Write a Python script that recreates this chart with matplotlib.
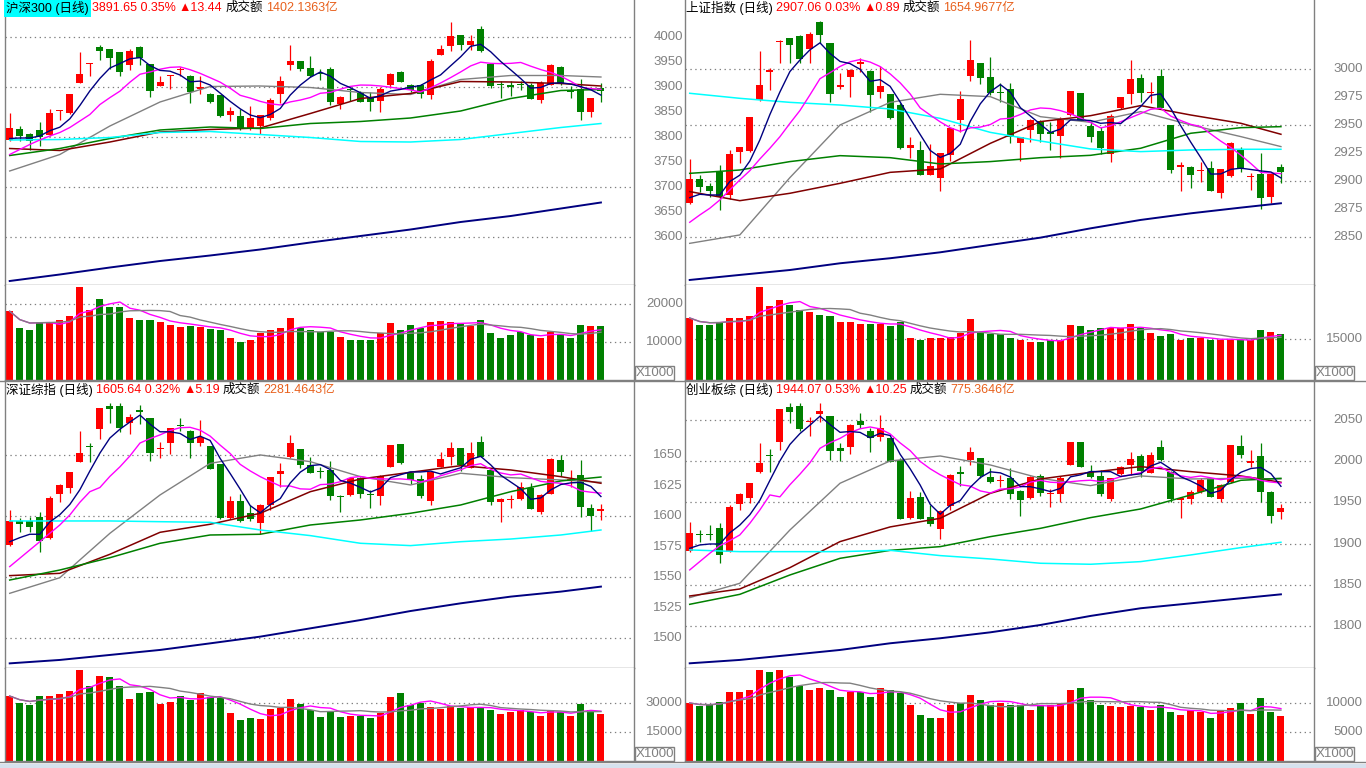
import numpy as np
import pandas as pd
import matplotlib
matplotlib.use('Agg')
import matplotlib.pyplot as plt
from matplotlib.lines import Line2D
from matplotlib.patches import Rectangle

W, H = 1366, 768
TXT = ['Liberation Sans', 'Noto Sans CJK SC', 'DejaVu Sans']
NUM = ['Liberation Sans', 'DejaVu Sans']
UP, DOWN = '#FF0000', '#008000'
GRAY = '#808080'

# sample positions (candle index) for the long moving averages
ma_idx = [0, 5, 10, 15, 20, 25, 30, 35, 40, 45, 50, 55, 59]

# ---------------- 沪深300 ----------------
hs300_ohlc = [
    (3794, 3849, 3792, 3819), (3817, 3822, 3792, 3802), (3807, 3809, 3774, 3793), (3815, 3830, 3782, 3801),
    (3805, 3856, 3802, 3848), (3852, 3855, 3834, 3854), (3849, 3887, 3847, 3886), (3909, 3971, 3908, 3926),
    (3946, 3948, 3922, 3947), (3981, 3985, 3955, 3973), (3976, 3976, 3937, 3958), (3970, 3970, 3922, 3931),
    (3945, 3977, 3934, 3973), (3981, 3983, 3945, 3959), (3946, 3946, 3881, 3893), (3903, 3922, 3902, 3910),
    (3922, 3925, 3897, 3923), (3934, 3941, 3923, 3935), (3923, 3925, 3869, 3891), (3897, 3923, 3887, 3900),
    (3887, 3889, 3869, 3871), (3884, 3884, 3841, 3842), (3844, 3861, 3833, 3852), (3842, 3857, 3815, 3817),
    (3819, 3862, 3815, 3838), (3822, 3845, 3807, 3844), (3839, 3879, 3835, 3874), (3887, 3922, 3869, 3912),
    (3944, 3984, 3935, 3952), (3952, 3952, 3932, 3937), (3938, 3963, 3921, 3922), (3929, 3937, 3915, 3927),
    (3937, 3940, 3865, 3870), (3866, 3882, 3857, 3880), (3897, 3899, 3872, 3894), (3889, 3892, 3870, 3871),
    (3879, 3890, 3852, 3871), (3872, 3901, 3851, 3897), (3904, 3929, 3899, 3926), (3930, 3932, 3910, 3911),
    (3904, 3907, 3890, 3894), (3905, 3907, 3879, 3887), (3884, 3957, 3877, 3952), (3965, 3984, 3964, 3977),
    (3983, 4030, 3972, 4002), (4005, 4005, 3975, 3984), (3984, 4004, 3975, 3992), (4017, 4022, 3971, 3972),
    (3947, 3947, 3899, 3902), (3906, 3913, 3879, 3905), (3905, 3912, 3882, 3900), (3906, 3913, 3894, 3905),
    (3905, 3909, 3876, 3877), (3875, 3912, 3869, 3909), (3905, 3947, 3904, 3945), (3941, 3942, 3905, 3907),
    (3894, 3902, 3879, 3891), (3897, 3917, 3835, 3851), (3851, 3879, 3841, 3878), (3899, 3909, 3870, 3892),
]
hs300_vol = [18100, 13700, 13200, 15300, 15300, 15800, 16800, 24500, 18400, 21300,
             19200, 19200, 16300, 15800, 15800, 15300, 14500, 13900, 14200, 13900,
             13400, 13200, 11000, 10000, 10500, 12400, 13200, 13700, 16300, 13700,
             13200, 12600, 12600, 11300, 10500, 10500, 10500, 12400, 15000, 13200,
             14500, 13700, 15300, 15500, 15300, 14700, 14200, 15800, 12400, 11000,
             11800, 12600, 11800, 11000, 12600, 12100, 11000, 14500, 14200, 14200]
hs300_ma5_head = [3797, 3798, 3798, 3802]
hs300_ma10_head = [3765, 3775, 3785, 3794, 3802, 3809, 3819, 3832, 3845]
hs300_ma20 = [3732, 3765, 3822, 3870, 3901, 3902, 3899, 3889, 3885, 3915, 3923, 3923, 3920]
hs300_ma30 = [3777, 3773, 3790, 3810, 3815, 3818, 3847, 3877, 3887, 3911, 3910, 3907, 3902]
hs300_ma60 = [3763, 3777, 3797, 3814, 3820, 3817, 3827, 3831, 3838, 3852, 3877, 3893, 3895]
hs300_ma120 = [3794, 3795, 3799, 3809, 3811, 3805, 3799, 3791, 3790, 3795, 3807, 3819, 3827]
hs300_ma250 = [3512, 3525, 3539, 3552, 3563, 3575, 3589, 3602, 3615, 3630, 3642, 3657, 3669]

# ---------------- 上证指数 ----------------
shzs_ohlc = [
    (2880.4, 2919.9, 2879.8, 2902.1), (2902.1, 2905.7, 2890.8, 2894.6), (2895.8, 2898.2, 2886.3, 2891.7),
    (2908.0, 2914.6, 2874.4, 2886.3), (2887.8, 2928.0, 2884.2, 2924.4), (2926.5, 2930.9, 2916.1, 2930.4),
    (2927.1, 2957.7, 2926.5, 2957.7), (2972.6, 3016.4, 2972.0, 2986.0), (2997.3, 3000.9, 2981.5, 2999.4),
    (3024.7, 3026.2, 3005.3, 3025.3), (3027.7, 3028.3, 3005.3, 3021.7), (3029.8, 3030.6, 3005.3, 3009.2),
    (3017.8, 3033.6, 3005.9, 3031.5), (3042.5, 3043.1, 3023.2, 3030.6), (3023.2, 3023.2, 2971.1, 2978.0),
    (2984.5, 2996.4, 2982.4, 2986.0), (2993.4, 3000.0, 2975.6, 2999.4), (3004.8, 3009.8, 2997.3, 3006.2),
    (2998.5, 2999.4, 2961.6, 2977.1), (2980.1, 3003.3, 2974.7, 2985.1), (2978.0, 2978.0, 2955.6, 2956.2),
    (2968.1, 2969.6, 2928.9, 2929.5), (2930.1, 2939.3, 2921.1, 2932.4), (2928.0, 2936.0, 2905.5, 2905.7),
    (2905.7, 2933.0, 2905.5, 2914.0), (2902.7, 2925.6, 2891.7, 2925.0), (2923.5, 2947.9, 2918.2, 2947.3),
    (2954.8, 2980.6, 2944.3, 2973.5), (2994.3, 3026.2, 2989.9, 3008.3), (3005.3, 3005.3, 2986.9, 2992.0),
    (2993.4, 3010.7, 2977.1, 2979.2), (2979.8, 2987.5, 2971.1, 2978.9), (2982.4, 2987.5, 2933.9, 2939.3),
    (2934.5, 2939.9, 2918.4, 2939.3), (2945.8, 2955.4, 2935.4, 2954.8), (2953.9, 2954.5, 2934.8, 2942.3),
    (2944.3, 2953.3, 2928.0, 2942.0), (2940.8, 2957.7, 2921.1, 2954.8), (2959.2, 2980.6, 2958.6, 2980.6),
    (2978.6, 2979.2, 2954.2, 2954.2), (2949.7, 2953.9, 2935.4, 2939.9), (2944.9, 2948.8, 2924.1, 2929.5),
    (2924.4, 2959.8, 2917.6, 2958.3), (2965.2, 2975.6, 2964.6, 2975.3), (2978.0, 3008.3, 2969.0, 2991.4),
    (2992.0, 2995.5, 2970.5, 2979.2), (2978.6, 2989.0, 2969.6, 2979.5), (2994.0, 3000.3, 2964.3, 2965.2),
    (2950.3, 2950.3, 2907.1, 2910.1), (2913.1, 2917.6, 2891.4, 2914.3), (2913.1, 2913.7, 2894.3, 2905.7),
    (2909.2, 2917.6, 2899.7, 2910.4), (2911.6, 2918.4, 2891.4, 2891.7), (2889.9, 2911.0, 2884.8, 2911.0),
    (2905.1, 2934.8, 2903.6, 2934.5), (2928.0, 2930.9, 2908.0, 2911.0), (2903.6, 2907.1, 2892.3, 2904.5),
    (2906.2, 2925.0, 2875.0, 2885.4), (2886.3, 2907.1, 2881.0, 2906.2), (2913.1, 2915.5, 2898.2, 2908.0),
]
shzs_vol = [22700, 20100, 20100, 21200, 22700, 22700, 23400, 34000, 27100, 29300,
            27500, 25600, 24900, 23800, 23400, 21200, 21200, 20500, 20500, 20500,
            19800, 21200, 15400, 14600, 15400, 15400, 15700, 17200, 22300, 17600,
            16800, 16800, 15400, 14600, 13900, 13900, 14600, 14600, 20100, 19800,
            18300, 19000, 19000, 19000, 20500, 19000, 17200, 16100, 16800, 14600,
            15400, 15400, 14600, 14600, 14600, 14600, 14600, 18300, 17600, 16800]
shzs_ma5_head = [2885.4, 2888.4, 2887.8, 2887.8]
shzs_ma10_head = [2863.4, 2869.9, 2875.9, 2883.3, 2892.3, 2901.2, 2909.5, 2919.9, 2929.5]
shzs_ma20 = [2844.6, 2852.1, 2903.3, 2950.3, 2970.5, 2977.7, 2975.6, 2957.7, 2952.7, 2962.2, 2950.3, 2939.9, 2931.0]
shzs_ma30 = [2890.8, 2882.7, 2889.3, 2898.2, 2908.0, 2911.0, 2933.9, 2953.3, 2958.6, 2967.6, 2959.2, 2951.8, 2942.0]
shzs_ma60 = [2907.1, 2910.1, 2917.6, 2922.9, 2921.1, 2915.5, 2917.6, 2921.1, 2923.2, 2929.5, 2942.9, 2947.9, 2948.8]
shzs_ma120 = [2978.6, 2974.1, 2970.5, 2968.1, 2964.6, 2956.2, 2943.7, 2936.0, 2928.9, 2926.5, 2928.0, 2928.6, 2928.6]
shzs_ma250 = [2811.9, 2816.4, 2820.8, 2826.8, 2831.3, 2836.6, 2843.2, 2849.7, 2858.0, 2865.5, 2871.4, 2876.5, 2880.4]

# ---------------- 深证综指 ----------------
szzz_ohlc = [
    (1576.5, 1605.2, 1576.0, 1596.2), (1596.2, 1598.9, 1587.4, 1594.0), (1596.2, 1599.5, 1587.4, 1591.5),
    (1599.5, 1603.3, 1571.1, 1580.1), (1582.0, 1616.9, 1581.4, 1615.3), (1618.3, 1626.2, 1612.0, 1625.7),
    (1623.0, 1636.6, 1618.9, 1636.1), (1644.8, 1670.2, 1644.5, 1651.6), (1657.9, 1660.4, 1644.8, 1657.1),
    (1671.6, 1689.1, 1663.4, 1688.5), (1690.4, 1692.6, 1676.2, 1687.7), (1690.4, 1692.6, 1669.4, 1672.1),
    (1676.2, 1683.6, 1667.5, 1681.2), (1687.2, 1691.3, 1675.4, 1685.2), (1680.3, 1680.9, 1645.6, 1651.6),
    (1654.9, 1661.2, 1647.5, 1656.3), (1660.4, 1672.7, 1651.1, 1672.1), (1675.1, 1680.3, 1669.9, 1674.3),
    (1669.9, 1670.8, 1648.1, 1660.4), (1660.4, 1679.0, 1657.7, 1665.3), (1657.7, 1657.7, 1638.5, 1638.8),
    (1642.9, 1642.9, 1597.8, 1598.4), (1598.4, 1616.7, 1597.6, 1612.6), (1612.6, 1618.0, 1595.6, 1596.2),
    (1602.5, 1609.3, 1596.2, 1597.8), (1594.8, 1609.8, 1585.3, 1609.3), (1609.3, 1632.5, 1605.2, 1632.2),
    (1634.4, 1643.4, 1624.3, 1637.2), (1648.9, 1666.7, 1647.5, 1660.4), (1655.2, 1655.2, 1639.9, 1642.1),
    (1642.1, 1648.9, 1635.3, 1635.8), (1636.9, 1640.7, 1631.2, 1636.3), (1638.0, 1645.4, 1613.4, 1616.9),
    (1616.4, 1617.5, 1603.3, 1615.9), (1617.5, 1631.7, 1616.9, 1631.2), (1631.2, 1632.5, 1614.8, 1618.3),
    (1617.8, 1621.6, 1606.6, 1617.2), (1616.9, 1633.9, 1609.3, 1633.1), (1640.7, 1658.5, 1640.4, 1658.5),
    (1659.0, 1659.3, 1642.9, 1643.4), (1635.3, 1636.6, 1626.2, 1629.8), (1630.6, 1633.9, 1614.8, 1616.9),
    (1612.6, 1637.2, 1609.3, 1636.6), (1640.7, 1652.5, 1640.2, 1647.0), (1648.9, 1660.7, 1642.1, 1656.3),
    (1656.3, 1656.3, 1637.2, 1642.1), (1639.9, 1660.7, 1639.3, 1651.6), (1661.2, 1665.9, 1648.4, 1648.9),
    (1638.0, 1638.0, 1609.3, 1612.0), (1611.5, 1614.8, 1595.6, 1613.9), (1613.4, 1617.5, 1606.6, 1614.2),
    (1614.2, 1627.9, 1613.4, 1623.8), (1623.0, 1627.1, 1606.0, 1606.0), (1603.3, 1618.3, 1601.9, 1617.5),
    (1618.3, 1647.5, 1618.0, 1647.0), (1646.2, 1650.3, 1633.3, 1636.1), (1629.0, 1638.0, 1624.3, 1630.6),
    (1633.9, 1646.2, 1599.7, 1607.9), (1606.6, 1609.8, 1588.0, 1600.6), (1604.7, 1609.8, 1597.0, 1606.0),
]
szzz_vol = [33600, 29800, 29000, 33600, 33600, 34700, 36200, 47100, 38800, 44100,
            43400, 38800, 32100, 35200, 35700, 29500, 30500, 33600, 31700, 35200,
            33300, 32700, 24800, 21200, 22200, 21700, 26900, 27400, 32100, 29500,
            26400, 22800, 25900, 22800, 23300, 23300, 22200, 24800, 33100, 35200,
            29000, 30000, 27900, 26900, 28400, 27400, 27900, 27900, 26400, 24300,
            25300, 26400, 25300, 23300, 26400, 25300, 23300, 29500, 26400, 24300]
szzz_ma5_head = [1579.2, 1582.5, 1585.3, 1585.3]
szzz_ma10_head = [1558.8, 1565.6, 1572.4, 1579.2, 1586.1, 1592.9, 1601.1, 1611.5, 1620.2]
szzz_ma20 = [1536.9, 1549.7, 1586.1, 1617.5, 1643.4, 1650.3, 1644.8, 1632.5, 1625.7, 1635.3, 1631.7, 1629.8, 1627.9]
szzz_ma30 = [1551.4, 1553.3, 1568.9, 1586.9, 1593.5, 1602.5, 1620.2, 1630.6, 1636.1, 1641.5, 1638.0, 1632.5, 1627.1]
szzz_ma60 = [1547.8, 1556.0, 1566.1, 1577.9, 1584.7, 1585.3, 1592.9, 1597.0, 1602.5, 1609.3, 1620.2, 1629.0, 1632.2]
szzz_ma120 = [1596.2, 1596.2, 1596.2, 1595.6, 1595.1, 1588.8, 1584.2, 1577.9, 1576.0, 1579.2, 1581.4, 1584.7, 1588.8]
szzz_ma250 = [1479.5, 1482.3, 1486.4, 1490.5, 1495.9, 1501.4, 1508.2, 1515.0, 1522.4, 1528.7, 1534.2, 1538.3, 1542.4]

# ---------------- 创业板综 ----------------
cybz_ohlc = [
    (1891.0, 1926.6, 1890.2, 1913.3), (1911.7, 1916.5, 1902.4, 1910.5), (1911.7, 1922.6, 1904.4, 1910.5),
    (1918.5, 1924.6, 1876.1, 1886.2), (1890.2, 1946.9, 1889.4, 1944.8), (1948.1, 1961.0, 1940.8, 1960.2),
    (1955.8, 1974.0, 1949.7, 1973.2), (1986.5, 2021.7, 1985.7, 1998.2), (2007.9, 2014.4, 1986.5, 2006.7),
    (2023.7, 2063.4, 2013.6, 2063.4), (2066.2, 2070.2, 2046.0, 2060.1), (2067.0, 2070.2, 2036.7, 2039.1),
    (2048.0, 2054.1, 2031.0, 2049.2), (2057.3, 2070.2, 2047.2, 2061.3), (2054.9, 2054.9, 2001.5, 2012.8),
    (2016.4, 2021.7, 2000.7, 2012.8), (2017.6, 2044.7, 2008.7, 2043.9), (2049.2, 2058.1, 2039.9, 2043.9),
    (2036.7, 2040.7, 2011.6, 2028.6), (2029.8, 2056.1, 2024.9, 2039.9), (2027.8, 2027.8, 1998.6, 1999.4),
    (2001.5, 2003.5, 1929.5, 1929.9), (1930.7, 1963.8, 1929.9, 1955.8), (1957.0, 1963.0, 1929.5, 1929.9),
    (1932.7, 1946.9, 1921.8, 1923.4), (1917.7, 1940.8, 1905.6, 1939.6), (1945.6, 1984.1, 1940.8, 1983.3),
    (1986.5, 1994.2, 1970.3, 1984.9), (2001.5, 2017.6, 1995.4, 2010.8), (2003.5, 2004.3, 1979.2, 1982.1),
    (1980.4, 1992.2, 1973.6, 1974.4), (1976.0, 1983.3, 1969.1, 1976.8), (1980.0, 1991.4, 1954.1, 1959.8),
    (1963.8, 1965.1, 1933.9, 1952.9), (1954.9, 1982.1, 1954.1, 1981.2), (1982.1, 1984.1, 1958.2, 1961.0),
    (1959.8, 1966.3, 1944.8, 1960.6), (1960.2, 1982.1, 1950.9, 1979.2), (1995.4, 2023.7, 1995.0, 2022.9),
    (2022.9, 2023.7, 1993.0, 1993.4), (1987.3, 1995.4, 1979.2, 1981.2), (1982.1, 1989.3, 1958.2, 1959.8),
    (1954.1, 1980.0, 1952.1, 1979.2), (1984.1, 1994.2, 1983.3, 1993.4), (1995.4, 2011.6, 1983.3, 2002.7),
    (2006.3, 2008.3, 1981.2, 1988.1), (1986.1, 2010.8, 1985.3, 2007.5), (2016.8, 2025.7, 2000.7, 2001.5),
    (1987.3, 1988.1, 1950.9, 1953.7), (1953.3, 1957.0, 1931.5, 1954.9), (1954.1, 1965.1, 1948.1, 1962.2),
    (1963.0, 1980.0, 1961.8, 1977.2), (1978.0, 1979.2, 1956.6, 1957.0), (1954.1, 1971.9, 1950.9, 1971.1),
    (1974.4, 2019.7, 1973.2, 2019.7), (2018.5, 2031.8, 2004.3, 2007.5), (1998.2, 2013.6, 1993.4, 2000.3),
    (2006.3, 2021.7, 1950.9, 1963.0), (1963.0, 1963.8, 1925.4, 1933.9), (1938.8, 1948.1, 1929.9, 1942.8),
]
cybz_vol = [10000, 9480, 9650, 10170, 11900, 11900, 12240, 15690, 15340, 15690,
            14480, 12930, 12240, 12590, 12240, 11030, 11900, 11900, 11030, 12590,
            12240, 11720, 9650, 7930, 7410, 7410, 9650, 10000, 11380, 10520,
            9650, 10000, 9650, 9650, 8790, 9650, 9650, 10000, 12240, 12590,
            10520, 9650, 9480, 9310, 9480, 9310, 8790, 9650, 8450, 7930,
            8790, 8450, 7410, 8790, 9140, 10000, 8100, 10860, 8450, 7760]
cybz_ma5_head = [1894.3, 1898.3, 1899.5, 1899.5]
cybz_ma10_head = [1868.0, 1878.1, 1888.2, 1897.5, 1903.6, 1910.5, 1924.6, 1940.8, 1959.0]
cybz_ma20 = [1834.4, 1851.8, 1916.5, 1973.2, 2000.3, 2006.3, 1995.4, 1979.2, 1970.3, 1982.1, 1978.4, 1979.2, 1978.4]
cybz_ma30 = [1836.4, 1844.9, 1870.8, 1902.4, 1920.2, 1930.7, 1961.0, 1978.4, 1986.5, 1993.4, 1987.3, 1982.1, 1974.4]
cybz_ma60 = [1826.3, 1838.4, 1861.9, 1882.1, 1891.8, 1896.3, 1908.4, 1918.5, 1931.5, 1942.0, 1959.0, 1976.8, 1979.2]
cybz_ma120 = [1892.3, 1890.2, 1890.2, 1890.2, 1891.8, 1885.4, 1881.3, 1876.1, 1874.9, 1878.1, 1886.2, 1895.1, 1901.6]
cybz_ma250 = [1754.7, 1758.8, 1764.8, 1770.9, 1779.0, 1785.1, 1792.3, 1801.2, 1812.2, 1821.5, 1827.5, 1833.6, 1838.4]

panels = [
    dict(x0=5, top=0, mid=285, bot=380, ohlc=hs300_ohlc, vol=hs300_vol,
         heads=(hs300_ma5_head, hs300_ma10_head),
         mas=(hs300_ma20, hs300_ma30, hs300_ma60, hs300_ma120, hs300_ma250),
         ylim=(3504, 4074), vlim=(0, 25000),
         labels=list(range(3600, 4001, 50)), grid=list(range(3600, 4001, 100)),
         vlabels=[10000, 20000], ty=8,
         title=('沪深300 (日线)', '3891.65 0.35%', '▲13.44', '成交额', '1402.1363亿'), hi=True),
    dict(x0=685, top=0, mid=285, bot=380, ohlc=shzs_ohlc, vol=shzs_vol,
         heads=(shzs_ma5_head, shzs_ma10_head),
         mas=(shzs_ma20, shzs_ma30, shzs_ma60, shzs_ma120, shzs_ma250),
         ylim=(2807.4, 3061.9), vlim=(0, 34770),
         labels=list(range(2850, 3001, 25)), grid=list(range(2850, 3001, 50)),
         vlabels=[15000], ty=8,
         title=('上证指数 (日线)', '2907.06 0.03%', '▲0.89', '成交额', '1654.9677亿'), hi=False),
    dict(x0=5, top=381, mid=668, bot=761, ohlc=szzz_ohlc, vol=szzz_vol,
         heads=(szzz_ma5_head, szzz_ma10_head),
         mas=(szzz_ma20, szzz_ma30, szzz_ma60, szzz_ma120, szzz_ma250),
         ylim=(1475.7, 1710.9), vlim=(0, 48100),
         labels=list(range(1500, 1651, 25)), grid=list(range(1500, 1651, 50)),
         vlabels=[15000, 30000], ty=390,
         title=('深证综指 (日线)', '1605.64 0.32%', '▲5.19', '成交额', '2281.4643亿'), hi=False),
    dict(x0=685, top=381, mid=668, bot=761, ohlc=cybz_ohlc, vol=cybz_vol,
         heads=(cybz_ma5_head, cybz_ma10_head),
         mas=(cybz_ma20, cybz_ma30, cybz_ma60, cybz_ma120, cybz_ma250),
         ylim=(1749.0, 2097.3), vlim=(0, 16030),
         labels=list(range(1800, 2051, 50)), grid=list(range(1800, 2051, 50)),
         vlabels=[5000, 10000], ty=390,
         title=('创业板综 (日线)', '1944.07 0.53%', '▲10.25', '成交额', '775.3646亿'), hi=False),
]

PLOT_W = 629
fig = plt.figure(figsize=(W / 100, H / 100), dpi=100)
fig.patch.set_facecolor('white')


def px_axes(x0, y0, x1, y1):
    return fig.add_axes([x0 / W, 1 - y1 / H, (x1 - x0) / W, (y1 - y0) / H])


def style(ax):
    ax.set_xticks([])
    ax.set_yticks([])
    ax.set_xlim(-0.47, 62.3)
    for sp in ax.spines.values():
        sp.set_color(GRAY)
        sp.set_linewidth(1)
    ax.spines['top'].set_visible(False)


def dotted(ax, vals):
    for v in vals:
        ax.axhline(v, color=GRAY, lw=0.9, ls=(0, (1.1, 2.8)), zorder=0)


def right_labels(ax, vals):
    for v in vals:
        ax.text(1.0775, v, str(v), transform=ax.get_yaxis_transform(), ha='right', va='center',
                color=GRAY, fontsize=9.5, family=NUM, clip_on=False)


def short_ma(close, n, head):
    s = pd.Series(close).rolling(n).mean().to_numpy()
    s[:len(head)] = head
    return s


renderer = fig.canvas.get_renderer()


def draw_title(x_px, y_px, pieces, hi):
    colors = ['black', '#FF0000', '#FF0000', 'black', '#E8601C']
    x = x_px
    for i, (txt, col) in enumerate(zip(pieces, colors)):
        kw = {}
        if i == 0 and hi:
            kw['bbox'] = dict(boxstyle='square,pad=0.15', fc='#00FFFF', ec='none')
        t = fig.text(x / W, 1 - y_px / H, txt, color=col, fontsize=9, family=TXT,
                     ha='left', va='center', **kw)
        x += t.get_window_extent(renderer).width + 3


for p in panels:
    x0 = p['x0']
    ax = px_axes(x0, p['top'], x0 + PLOT_W, p['mid'])
    axv = px_axes(x0, p['mid'], x0 + PLOT_W, p['bot'])
    style(ax)
    style(axv)
    ax.set_ylim(*p['ylim'])
    axv.set_ylim(*p['vlim'])

    o, h, l, c = np.array(p['ohlc'], dtype=float).T
    x = np.arange(len(c))
    col = np.where(c >= o, UP, DOWN)
    onepx = (p['ylim'][1] - p['ylim'][0]) / (p['mid'] - p['top'])

    dotted(ax, p['grid'])
    ax.vlines(x, l, h, colors=col, lw=0.9, zorder=2)
    ax.bar(x, np.maximum(np.abs(c - o), onepx), width=0.7, bottom=np.minimum(o, c),
           color=col, linewidth=0, zorder=3)

    # moving averages
    for vals, color, lw in zip(p['mas'], [GRAY, '#800000', '#008000', '#00FFFF', '#000080'],
                               [1.0, 1.1, 1.1, 1.1, 1.4]):
        ax.plot(ma_idx, vals, color=color, lw=lw, zorder=4)
    ax.plot(x, short_ma(c, 10, p['heads'][1]), color='#FF00FF', lw=1.0, zorder=5)
    ax.plot(x, short_ma(c, 5, p['heads'][0]), color='#000080', lw=1.0, zorder=5)
    right_labels(ax, p['labels'])

    # volume
    vol = pd.Series(p['vol'], dtype=float)
    dotted(axv, p['vlabels'])
    axv.bar(x, vol, width=0.7, color=col, linewidth=0, zorder=2)
    axv.plot(x, vol.rolling(5, min_periods=1).mean(), color='#FF00FF', lw=1.0, zorder=3)
    axv.plot(x, vol.rolling(10, min_periods=1).mean(), color=GRAY, lw=1.0, zorder=3)
    right_labels(axv, p['vlabels'])

    # X1000 box
    bx0 = x0 + PLOT_W + 1
    fig.add_artist(Rectangle((bx0 / W, 1 - p['bot'] / H), 39 / W, 14 / H, transform=fig.transFigure,
                             fc='white', ec=GRAY, lw=1))
    fig.text((bx0 + 19.5) / W, 1 - (p['bot'] - 7) / H, 'X1000', color=GRAY, fontsize=9.5,
             family=NUM, ha='center', va='center')

    draw_title(x0 + 1, p['ty'], p['title'], p['hi'])

# frame lines across the whole window
for y in (381, 762):
    fig.add_artist(Line2D([0, 1], [1 - y / H, 1 - y / H], color=GRAY, lw=1, transform=fig.transFigure))
fig.add_artist(Rectangle((0, 0), 1, 4 / H, transform=fig.transFigure, fc='#D6E2EE', ec='none'))

fig.savefig('out.png', dpi=100, facecolor='white')
